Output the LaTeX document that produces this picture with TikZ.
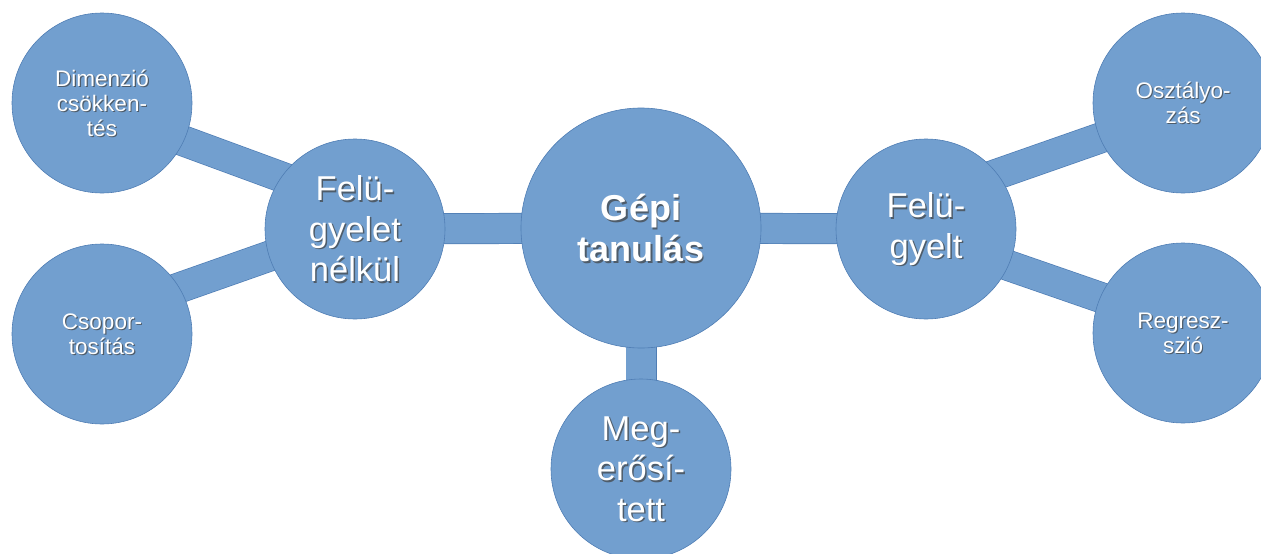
\documentclass[tikz,border=0pt]{standalone}
\usepackage{fontspec}
\setmainfont{Liberation Sans}
\usetikzlibrary{backgrounds}
\definecolor{cfill}{HTML}{729FCF}
\definecolor{cline}{HTML}{4F7DB4}
\tikzset{
  bubble/.style={circle, fill=cfill, draw=cline, line width=0.6pt, inner sep=0pt, minimum size=#1},
  linkouter/.style={draw=cline, line width=31pt},
  linkinner/.style={draw=cfill, line width=29.6pt},
  smalltxt/.style={align=center, font=\fontsize{22.5}{25}\selectfont},
  bigtxt/.style={align=center, font=\fontsize{34.5}{40.5}\selectfont},
  boldtxt/.style={align=center, font=\fontsize{36}{41}\selectfont\bfseries},
  white/.style={text=white},
  shade/.style={text=black!75, opacity=0.7},
}
\begin{document}
\begin{tikzpicture}[x=1pt,y=-1pt]
\useasboundingbox (0,0) rectangle (1261,554);
\clip (0,0) rectangle (1261,554);
% circles
\node[bubble=240pt] (gt) at (641,228) {};
\node[bubble=180pt] (fn) at (355,229) {};
\node[bubble=180pt] (fe) at (926,229) {};
\node[bubble=180pt] (me) at (641,469) {};
\node[bubble=180pt] (dc) at (102,103) {};
\node[bubble=180pt] (cs) at (102,334) {};
\node[bubble=180pt] (os) at (1183,103) {};
\node[bubble=180pt] (re) at (1183,333) {};
% connectors
\begin{scope}[on background layer]
  \foreach \a/\ay/\b/\by in {gt/0/fn/0, gt/0/fe/0, gt/0/me/0, fn/-25/dc/8, fn/-3/cs/-19, fe/-30/os/6, fe/8/re/-7}{
    \draw[linkouter] ([shift={(0,\ay)}]\a.center) -- ([shift={(0,\by)}]\b.center);
    \draw[linkinner] ([shift={(0,\ay)}]\a.center) -- ([shift={(0,\by)}]\b.center);
  }
\end{scope}
% texts (shadow + white)
\node[boldtxt, shade] (gts) at ([shift={(1.6,1.6)}]gt.center) {Gépi\\tanulás};
\node[boldtxt, white] (gtt) at (gt.center) {Gépi\\tanulás};
\node[bigtxt, shade] (fns) at ([shift={(1.5,1.5)}]fn.center) {Felü-\\gyelet\\nélkül};
\node[bigtxt, white] (fnt) at (fn.center) {Felü-\\gyelet\\nélkül};
\node[bigtxt, shade] (fes) at ([shift={(1.5,1.5)}]fe.center) {Felü-\\gyelt};
\node[bigtxt, white] (fet) at (fe.center) {Felü-\\gyelt};
\node[bigtxt, shade] (mes) at ([shift={(1.5,1.5)}]me.center) {Meg-\\erősí-\\tett};
\node[bigtxt, white] (met) at (me.center) {Meg-\\erősí-\\tett};
\node[smalltxt, shade] (dcs) at ([shift={(1.2,1.2)}]dc.center) {Dimenzió\\csökken-\\tés};
\node[smalltxt, white] (dct) at (dc.center) {Dimenzió\\csökken-\\tés};
\node[smalltxt, shade] (css) at ([shift={(1.2,1.2)}]cs.center) {Csopor-\\tosítás};
\node[smalltxt, white] (cst) at (cs.center) {Csopor-\\tosítás};
\node[smalltxt, shade] (oss) at ([shift={(1.2,1.2)}]os.center) {Osztályo-\\zás};
\node[smalltxt, white] (ost) at (os.center) {Osztályo-\\zás};
\node[smalltxt, shade] (res) at ([shift={(1.2,1.2)}]re.center) {Regresz-\\szió};
\node[smalltxt, white] (ret) at (re.center) {Regresz-\\szió};
\end{tikzpicture}
\end{document}
